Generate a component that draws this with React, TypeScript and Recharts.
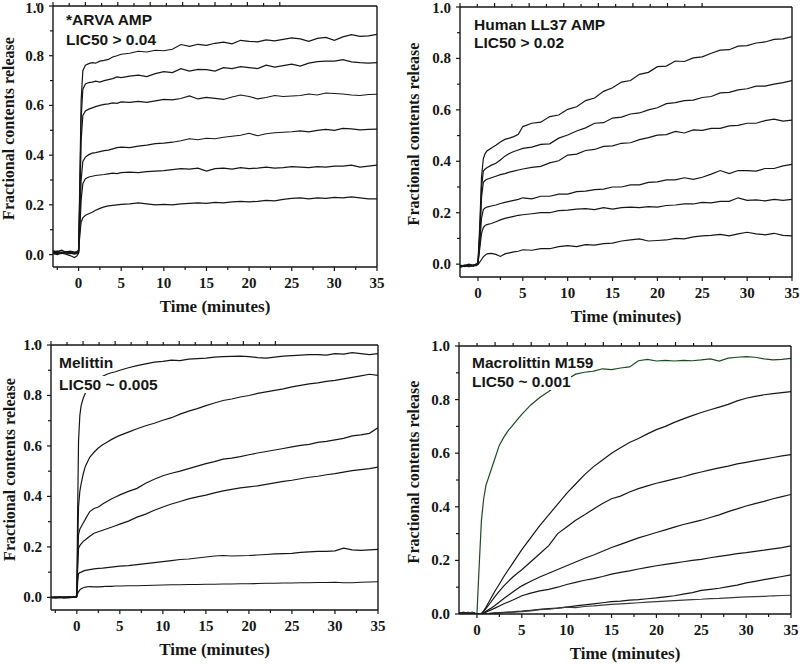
import React from 'react';
import { LineChart, Line, XAxis, YAxis, Label } from 'recharts';

// ---------- *ARVA AMP ----------
const arvaTime = [-3, -2.5, -2, -1.5, -1, -0.5, -0.2, 0, 0.15, 0.3, 0.5, 0.8, 1.2, 1.6, 2, 2.5, 3, 3.5, 4, 4.5, 5, 6, 7, 8, 9, 10, 11, 12, 13, 14, 15, 16, 17, 18, 19, 20, 21, 22, 23, 24, 25, 26, 27, 28, 29, 30, 31, 32, 33, 34, 35];
const arvaA = [0.015, 0.012, 0.018, 0.010, 0.014, 0.010, 0.012, 0.020, 0.30, 0.62, 0.74, 0.762, 0.768, 0.772, 0.770, 0.778, 0.781, 0.785, 0.795, 0.800, 0.806, 0.810, 0.818, 0.815, 0.822, 0.820, 0.826, 0.845, 0.838, 0.846, 0.842, 0.850, 0.855, 0.848, 0.862, 0.858, 0.856, 0.864, 0.860, 0.866, 0.872, 0.868, 0.858, 0.870, 0.874, 0.862, 0.876, 0.885, 0.878, 0.880, 0.886];
const arvaB = [0.008, 0.010, 0.006, 0.012, 0.008, 0.005, 0.008, 0.012, 0.26, 0.55, 0.665, 0.686, 0.692, 0.694, 0.698, 0.694, 0.700, 0.704, 0.708, 0.715, 0.712, 0.718, 0.722, 0.716, 0.728, 0.736, 0.732, 0.748, 0.738, 0.745, 0.744, 0.738, 0.752, 0.748, 0.756, 0.752, 0.748, 0.762, 0.754, 0.760, 0.766, 0.758, 0.770, 0.776, 0.778, 0.778, 0.784, 0.775, 0.772, 0.770, 0.772];
const arvaC = [0.006, 0.004, 0.010, 0.006, 0.004, 0.008, 0.006, 0.010, 0.22, 0.46, 0.560, 0.578, 0.585, 0.590, 0.595, 0.600, 0.604, 0.606, 0.610, 0.608, 0.614, 0.612, 0.616, 0.612, 0.618, 0.624, 0.622, 0.628, 0.638, 0.626, 0.632, 0.628, 0.624, 0.634, 0.642, 0.636, 0.626, 0.632, 0.640, 0.636, 0.638, 0.640, 0.646, 0.642, 0.650, 0.648, 0.646, 0.642, 0.640, 0.644, 0.645];
const arvaD = [0.004, 0.000, 0.006, 0.002, -0.004, -0.012, -0.006, 0.005, 0.14, 0.30, 0.375, 0.392, 0.402, 0.408, 0.410, 0.414, 0.418, 0.420, 0.425, 0.430, 0.432, 0.430, 0.436, 0.440, 0.446, 0.448, 0.452, 0.458, 0.466, 0.462, 0.468, 0.466, 0.472, 0.476, 0.480, 0.488, 0.478, 0.486, 0.490, 0.492, 0.494, 0.498, 0.494, 0.500, 0.504, 0.500, 0.508, 0.506, 0.502, 0.504, 0.505];
const arvaE = [0.012, 0.008, 0.004, 0.010, 0.006, 0.002, 0.004, 0.008, 0.10, 0.22, 0.285, 0.305, 0.312, 0.315, 0.318, 0.320, 0.322, 0.325, 0.328, 0.326, 0.330, 0.332, 0.330, 0.334, 0.336, 0.338, 0.342, 0.346, 0.344, 0.348, 0.336, 0.346, 0.348, 0.344, 0.350, 0.346, 0.348, 0.352, 0.348, 0.350, 0.354, 0.352, 0.350, 0.354, 0.352, 0.356, 0.356, 0.360, 0.352, 0.356, 0.360];
const arvaF = [0.010, 0.014, 0.008, 0.012, 0.010, 0.008, 0.010, 0.012, 0.08, 0.13, 0.148, 0.158, 0.164, 0.170, 0.178, 0.186, 0.192, 0.196, 0.198, 0.200, 0.202, 0.204, 0.208, 0.204, 0.200, 0.202, 0.200, 0.204, 0.206, 0.208, 0.206, 0.210, 0.208, 0.212, 0.214, 0.212, 0.214, 0.218, 0.216, 0.222, 0.226, 0.228, 0.224, 0.228, 0.226, 0.230, 0.228, 0.232, 0.228, 0.224, 0.224];

// ---------- Human LL37 AMP ----------
const llTime = [-2, -1.5, -1, -0.5, -0.2, 0, 0.2, 0.4, 0.6, 0.8, 1, 1.5, 2, 2.5, 3, 3.5, 4, 4.5, 5, 6, 7, 8, 9, 10, 11, 12, 13, 14, 15, 16, 17, 18, 19, 20, 21, 22, 23, 24, 25, 26, 27, 28, 29, 30, 31, 32, 33, 34, 35];
const llA = [-0.010, -0.005, 0.000, -0.005, 0.000, 0.005, 0.15, 0.34, 0.41, 0.43, 0.44, 0.452, 0.462, 0.475, 0.485, 0.490, 0.496, 0.505, 0.535, 0.548, 0.552, 0.574, 0.580, 0.602, 0.612, 0.636, 0.646, 0.672, 0.686, 0.708, 0.714, 0.738, 0.746, 0.768, 0.770, 0.790, 0.788, 0.802, 0.806, 0.820, 0.832, 0.834, 0.848, 0.850, 0.860, 0.864, 0.874, 0.876, 0.885];
const llB = [-0.012, -0.008, -0.004, -0.008, -0.002, 0.000, 0.12, 0.30, 0.362, 0.370, 0.375, 0.385, 0.392, 0.405, 0.420, 0.430, 0.438, 0.444, 0.450, 0.455, 0.466, 0.468, 0.490, 0.502, 0.518, 0.530, 0.548, 0.550, 0.568, 0.572, 0.584, 0.588, 0.600, 0.608, 0.624, 0.628, 0.636, 0.638, 0.648, 0.652, 0.666, 0.668, 0.678, 0.682, 0.692, 0.692, 0.700, 0.706, 0.714];
const llC = [-0.008, -0.004, -0.010, -0.004, -0.006, 0.002, 0.10, 0.26, 0.318, 0.325, 0.330, 0.336, 0.342, 0.348, 0.352, 0.358, 0.362, 0.366, 0.370, 0.376, 0.380, 0.394, 0.402, 0.424, 0.428, 0.442, 0.446, 0.458, 0.460, 0.470, 0.472, 0.484, 0.492, 0.502, 0.504, 0.516, 0.510, 0.522, 0.520, 0.528, 0.528, 0.538, 0.540, 0.548, 0.548, 0.558, 0.564, 0.556, 0.560];
const llD = [-0.006, -0.010, -0.004, -0.008, -0.002, 0.000, 0.08, 0.18, 0.212, 0.218, 0.222, 0.226, 0.230, 0.236, 0.240, 0.244, 0.248, 0.252, 0.258, 0.254, 0.264, 0.264, 0.272, 0.272, 0.282, 0.284, 0.290, 0.292, 0.300, 0.300, 0.308, 0.308, 0.318, 0.320, 0.328, 0.328, 0.336, 0.330, 0.338, 0.350, 0.364, 0.352, 0.364, 0.364, 0.362, 0.372, 0.372, 0.382, 0.388];
const llE = [-0.004, -0.008, -0.002, -0.006, 0.000, 0.002, 0.06, 0.12, 0.142, 0.150, 0.154, 0.158, 0.165, 0.172, 0.178, 0.182, 0.186, 0.190, 0.192, 0.196, 0.200, 0.200, 0.208, 0.210, 0.214, 0.216, 0.212, 0.220, 0.214, 0.220, 0.222, 0.220, 0.224, 0.222, 0.228, 0.230, 0.234, 0.234, 0.240, 0.238, 0.244, 0.244, 0.258, 0.248, 0.250, 0.246, 0.252, 0.248, 0.252];
const llF = [-0.012, -0.006, -0.010, -0.004, -0.006, -0.002, 0.008, 0.018, 0.028, 0.035, 0.040, 0.042, 0.038, 0.030, 0.040, 0.044, 0.048, 0.050, 0.056, 0.054, 0.060, 0.060, 0.068, 0.072, 0.068, 0.076, 0.074, 0.080, 0.082, 0.090, 0.094, 0.098, 0.090, 0.092, 0.094, 0.100, 0.098, 0.106, 0.110, 0.112, 0.116, 0.110, 0.118, 0.124, 0.118, 0.114, 0.120, 0.112, 0.110];

// ---------- Melittin ----------
const melTime = [-3, -2.5, -2, -1.5, -1, -0.5, -0.1, 0, 0.1, 0.2, 0.35, 0.5, 0.75, 1, 1.5, 2, 2.5, 3, 3.5, 4, 4.5, 5, 6, 7, 8, 9, 10, 11, 12, 13, 14, 15, 16, 17, 18, 19, 20, 21, 22, 23, 24, 25, 26, 27, 28, 29, 30, 31, 32, 33, 34, 35];
const melA = [0.000, -0.002, 0.000, 0.002, 0.000, 0.002, 0.004, 0.010, 0.35, 0.62, 0.72, 0.76, 0.79, 0.81, 0.835, 0.852, 0.866, 0.876, 0.884, 0.890, 0.894, 0.900, 0.910, 0.918, 0.925, 0.932, 0.935, 0.940, 0.938, 0.944, 0.946, 0.948, 0.952, 0.954, 0.955, 0.956, 0.954, 0.950, 0.948, 0.952, 0.956, 0.958, 0.960, 0.962, 0.962, 0.960, 0.966, 0.964, 0.970, 0.966, 0.962, 0.966];
const melB = [0.000, 0.000, -0.002, 0.000, 0.002, 0.000, 0.002, 0.008, 0.20, 0.36, 0.42, 0.45, 0.49, 0.52, 0.555, 0.575, 0.592, 0.605, 0.615, 0.625, 0.634, 0.642, 0.655, 0.668, 0.680, 0.690, 0.702, 0.712, 0.726, 0.738, 0.748, 0.760, 0.770, 0.780, 0.786, 0.794, 0.800, 0.808, 0.814, 0.820, 0.826, 0.834, 0.840, 0.846, 0.850, 0.856, 0.860, 0.866, 0.872, 0.878, 0.884, 0.880];
const melC = [0.000, 0.002, 0.000, -0.002, 0.000, 0.002, 0.000, 0.006, 0.15, 0.25, 0.27, 0.28, 0.295, 0.31, 0.34, 0.352, 0.358, 0.370, 0.380, 0.390, 0.398, 0.406, 0.420, 0.432, 0.452, 0.468, 0.482, 0.492, 0.500, 0.510, 0.520, 0.530, 0.538, 0.548, 0.552, 0.558, 0.565, 0.572, 0.578, 0.584, 0.590, 0.596, 0.602, 0.606, 0.614, 0.618, 0.624, 0.630, 0.640, 0.644, 0.650, 0.672];
const melD = [-0.002, 0.000, 0.002, 0.000, -0.002, 0.000, 0.002, 0.006, 0.12, 0.195, 0.205, 0.212, 0.222, 0.228, 0.242, 0.254, 0.260, 0.266, 0.272, 0.278, 0.284, 0.290, 0.302, 0.318, 0.330, 0.345, 0.358, 0.370, 0.380, 0.390, 0.398, 0.405, 0.414, 0.422, 0.428, 0.434, 0.438, 0.442, 0.448, 0.454, 0.460, 0.464, 0.470, 0.476, 0.480, 0.486, 0.490, 0.496, 0.502, 0.506, 0.510, 0.516];
const melE = [0.000, 0.000, 0.002, -0.002, 0.000, 0.000, 0.002, 0.004, 0.06, 0.094, 0.098, 0.100, 0.104, 0.107, 0.110, 0.113, 0.115, 0.116, 0.118, 0.120, 0.122, 0.124, 0.126, 0.130, 0.134, 0.138, 0.142, 0.146, 0.150, 0.152, 0.156, 0.160, 0.164, 0.166, 0.164, 0.165, 0.166, 0.168, 0.170, 0.172, 0.173, 0.174, 0.178, 0.180, 0.182, 0.182, 0.184, 0.195, 0.188, 0.186, 0.188, 0.190];
const melF = [0.000, -0.002, 0.000, 0.000, 0.002, 0.000, 0.000, 0.002, 0.015, 0.022, 0.030, 0.034, 0.038, 0.041, 0.043, 0.042, 0.042, 0.043, 0.044, 0.044, 0.045, 0.045, 0.046, 0.046, 0.047, 0.048, 0.049, 0.050, 0.050, 0.051, 0.051, 0.052, 0.052, 0.053, 0.053, 0.054, 0.054, 0.055, 0.056, 0.056, 0.057, 0.057, 0.058, 0.058, 0.059, 0.059, 0.060, 0.058, 0.058, 0.060, 0.061, 0.062];

// ---------- Macrolittin M159 ----------
const macTime = [-2, -1.5, -1, -0.5, 0, 0.25, 0.5, 0.75, 1, 1.5, 2, 2.5, 3, 3.5, 4, 4.5, 5, 6, 7, 8, 9, 10, 11, 12, 13, 14, 15, 16, 17, 18, 19, 20, 21, 22, 23, 24, 25, 26, 27, 28, 29, 30, 31, 32, 33, 34, 35];
const macG = [0.004, 0.006, 0.003, 0.005, 0.000, 0.18, 0.35, 0.43, 0.48, 0.53, 0.58, 0.63, 0.66, 0.685, 0.705, 0.725, 0.745, 0.780, 0.808, 0.830, 0.855, 0.875, 0.895, 0.902, 0.906, 0.915, 0.912, 0.918, 0.922, 0.945, 0.950, 0.944, 0.946, 0.944, 0.946, 0.945, 0.948, 0.952, 0.944, 0.955, 0.958, 0.960, 0.958, 0.952, 0.948, 0.950, 0.954];
const macB = [0.004, 0.006, 0.003, 0.005, 0.000, 0.000, 0.002, 0.012, 0.025, 0.055, 0.085, 0.112, 0.140, 0.165, 0.190, 0.215, 0.240, 0.285, 0.330, 0.370, 0.410, 0.450, 0.485, 0.520, 0.550, 0.575, 0.600, 0.620, 0.640, 0.655, 0.672, 0.688, 0.700, 0.715, 0.728, 0.740, 0.752, 0.762, 0.772, 0.782, 0.795, 0.805, 0.812, 0.818, 0.822, 0.826, 0.830];
const macC = [0.003, 0.005, 0.004, 0.006, 0.000, 0.000, 0.000, 0.010, 0.020, 0.042, 0.065, 0.085, 0.105, 0.122, 0.138, 0.152, 0.165, 0.195, 0.225, 0.255, 0.300, 0.325, 0.350, 0.370, 0.392, 0.412, 0.430, 0.440, 0.455, 0.468, 0.478, 0.488, 0.496, 0.504, 0.512, 0.522, 0.530, 0.538, 0.545, 0.552, 0.560, 0.566, 0.572, 0.578, 0.584, 0.590, 0.595];
const macD = [0.005, 0.003, 0.006, 0.004, 0.000, 0.000, 0.000, 0.004, 0.010, 0.020, 0.032, 0.045, 0.058, 0.070, 0.082, 0.094, 0.105, 0.122, 0.138, 0.152, 0.166, 0.180, 0.194, 0.208, 0.220, 0.234, 0.248, 0.260, 0.272, 0.284, 0.294, 0.304, 0.314, 0.324, 0.334, 0.342, 0.350, 0.360, 0.370, 0.382, 0.392, 0.403, 0.412, 0.420, 0.430, 0.438, 0.446];
const macE = [0.004, 0.005, 0.003, 0.004, 0.000, 0.000, 0.000, 0.003, 0.007, 0.014, 0.022, 0.030, 0.038, 0.045, 0.052, 0.060, 0.068, 0.078, 0.086, 0.092, 0.100, 0.110, 0.118, 0.126, 0.132, 0.140, 0.149, 0.155, 0.161, 0.168, 0.174, 0.180, 0.185, 0.190, 0.195, 0.200, 0.204, 0.210, 0.215, 0.220, 0.225, 0.229, 0.234, 0.238, 0.243, 0.248, 0.254];
const macF = [0.003, 0.004, 0.005, 0.003, 0.000, 0.000, 0.000, 0.000, 0.000, 0.002, 0.004, 0.005, 0.006, 0.007, 0.008, 0.010, 0.011, 0.014, 0.017, 0.020, 0.022, 0.026, 0.030, 0.034, 0.038, 0.042, 0.046, 0.048, 0.052, 0.054, 0.057, 0.060, 0.064, 0.068, 0.074, 0.080, 0.088, 0.092, 0.096, 0.102, 0.108, 0.116, 0.122, 0.128, 0.134, 0.140, 0.146];
const macH = [0.004, 0.003, 0.004, 0.006, 0.000, 0.000, 0.000, 0.000, 0.000, 0.002, 0.003, 0.004, 0.005, 0.006, 0.007, 0.008, 0.009, 0.012, 0.016, 0.018, 0.022, 0.026, 0.024, 0.028, 0.030, 0.033, 0.036, 0.038, 0.040, 0.042, 0.044, 0.046, 0.048, 0.050, 0.052, 0.054, 0.055, 0.057, 0.058, 0.060, 0.062, 0.064, 0.065, 0.066, 0.068, 0.069, 0.070];

// ticks (minor ones get no label)
const xTicksFromMinus3 = [-2.5, 0, 2.5, 5, 7.5, 10, 12.5, 15, 17.5, 20, 22.5, 25, 27.5, 30, 32.5, 35];
const xTicksFromMinus2 = [0, 2.5, 5, 7.5, 10, 12.5, 15, 17.5, 20, 22.5, 25, 27.5, 30, 32.5, 35];
const yTicks = [0, 0.1, 0.2, 0.3, 0.4, 0.5, 0.6, 0.7, 0.8, 0.9, 1.0];

const xTitle = 'Time (minutes)';
const yTitle = 'Fractional contents release';

const SERIF = "'Liberation Serif', 'Times New Roman', serif";
const SANS = "'Liberation Sans', Arial, sans-serif";
const INK = '#161616';
const GREEN = '#1f4a1f';

const W = 400;
const H = 332;

type Spec = {
  left: number;
  top: number;
  time: number[];
  series: number[][];
  colors: string[];
  xMin: number;
  yMin: number;
  xTicks: number[];
  plot: { left: number; right: number; top: number; bottom: number };
  note: string[];
  noteX: number;
  noteY: number[];
  yTitleDx: number;
};

const panels: Spec[] = [
  {
    left: 0, top: 0, time: arvaTime, series: [arvaA, arvaB, arvaC, arvaD, arvaE, arvaF],
    colors: [INK, INK, INK, INK, INK, INK], xMin: -3, yMin: -0.05, xTicks: xTicksFromMinus3,
    plot: { left: 53, right: 377, top: 6, bottom: 267 },
    note: ['*ARVA AMP', 'LIC50 > 0.04'], noteX: 66, noteY: [25, 45], yTitleDx: 45,
  },
  {
    left: 400, top: 0, time: llTime, series: [llA, llB, llC, llD, llE, llF],
    colors: [INK, INK, INK, INK, INK, INK], xMin: -2, yMin: -0.05, xTicks: xTicksFromMinus2,
    plot: { left: 60, right: 392, top: 7, bottom: 277 },
    note: ['Human LL37 AMP', 'LIC50 > 0.02'], noteX: 74, noteY: [30, 48], yTitleDx: 47,
  },
  {
    left: 0, top: 332, time: melTime, series: [melA, melB, melC, melD, melE, melF],
    colors: [INK, INK, INK, INK, INK, INK], xMin: -3, yMin: -0.05, xTicks: xTicksFromMinus3,
    plot: { left: 51, right: 378, top: 13, bottom: 278 },
    note: ['Melittin', 'LIC50 ~ 0.005'], noteX: 59, noteY: [36, 58], yTitleDx: 42,
  },
  {
    left: 400, top: 332, time: macTime, series: [macG, macB, macC, macD, macE, macF, macH],
    colors: [GREEN, INK, INK, INK, INK, INK, '#3a3a3a'], xMin: -2, yMin: 0, xTicks: xTicksFromMinus2,
    plot: { left: 59, right: 391, top: 14, bottom: 282 },
    note: ['Macrolittin M159', 'LIC50 ~ 0.001'], noteX: 72, noteY: [36, 55], yTitleDx: 46,
  },
];

const isMajorX = (v: number) => Math.abs(v - Math.round(v / 5) * 5) < 1e-6;
const isMajorY = (v: number) => Math.round(v * 10) % 2 === 0;

const BottomTick = (props: any) => {
  const { x, y, payload } = props;
  const v = payload.value as number;
  const major = isMajorX(v);
  return (
    <g>
      <line x1={x} x2={x} y1={y} y2={y + (major ? 4 : 3)} stroke={INK} strokeWidth={1.2} />
      {major && (
        <text x={x} y={y + 16} textAnchor="middle" dominantBaseline="central"
          fontFamily={SERIF} fontWeight="bold" fontSize={15} fill={INK}>{v}</text>
      )}
    </g>
  );
};

const TopTick = (props: any) => {
  const { x, y, payload } = props;
  const major = isMajorX(payload.value);
  return <line x1={x} x2={x} y1={y} y2={y - (major ? 4 : 3)} stroke={INK} strokeWidth={1.2} />;
};

const LeftTick = (props: any) => {
  const { x, y, payload } = props;
  const v = payload.value as number;
  const major = isMajorY(v);
  // keep the topmost label inside the page edge
  const ty = Math.max(y, 8);
  return (
    <g>
      <line x1={x} x2={x - (major ? 4 : 3)} y1={y} y2={y} stroke={INK} strokeWidth={1.2} />
      {major && (
        <text x={x - 9} y={ty} textAnchor="end" dominantBaseline="central"
          fontFamily={SERIF} fontWeight="bold" fontSize={15} fill={INK}>{v.toFixed(1)}</text>
      )}
    </g>
  );
};

function Panel({ p }: { p: Spec }) {
  const rows = p.time.map((t, i) => {
    const row: Record<string, number> = { t };
    p.series.forEach((s, k) => {
      row['s' + k] = s[i];
    });
    return row;
  });
  const plotMidX = (p.plot.left + p.plot.right) / 2;
  const plotMidY = (p.plot.top + p.plot.bottom) / 2 - 8;
  const yTitleX = p.plot.left - p.yTitleDx;
  const axisLine = { stroke: INK, strokeWidth: 1.4 };

  return (
    <div style={{ position: 'absolute', left: p.left, top: p.top, width: W, height: H }}>
      <LineChart width={W} height={H} data={rows} margin={{ top: 0, right: 0, left: 0, bottom: 0 }}>
        <XAxis
          dataKey="t" type="number" domain={[p.xMin, 35]} ticks={p.xTicks} interval={0}
          allowDataOverflow height={H - p.plot.bottom} tickSize={0} tickMargin={0}
          tickLine={false} axisLine={axisLine} tick={<BottomTick />}
        >
          <Label
            content={() => (
              <text x={plotMidX} y={p.plot.bottom + 39} textAnchor="middle" dominantBaseline="central"
                fontFamily={SERIF} fontWeight="bold" fontSize={17} fill={INK}>{xTitle}</text>
            )}
          />
        </XAxis>
        <XAxis
          xAxisId="top" orientation="top" type="number" domain={[p.xMin, 35]} ticks={p.xTicks}
          interval={0} allowDataOverflow height={p.plot.top} tickSize={0} tickMargin={0}
          tickLine={false} axisLine={axisLine} tick={<TopTick />}
        />
        <YAxis
          type="number" domain={[p.yMin, 1]} ticks={yTicks} interval={0} allowDataOverflow
          width={p.plot.left} tickSize={0} tickMargin={0} tickLine={false} axisLine={axisLine}
          tick={<LeftTick />}
        >
          <Label
            content={() => (
              <text x={yTitleX} y={plotMidY} textAnchor="middle" dominantBaseline="central"
                transform={`rotate(-90, ${yTitleX}, ${plotMidY})`}
                fontFamily={SERIF} fontWeight="bold" fontSize={16} fill={INK}>{yTitle}</text>
            )}
          />
        </YAxis>
        <YAxis
          yAxisId="r" orientation="right" type="number" domain={[p.yMin, 1]} width={W - p.plot.right}
          tick={false} tickLine={false} axisLine={axisLine}
        />
        {p.series.map((_, k) => (
          <Line
            key={k} type="linear" dataKey={'s' + k} stroke={p.colors[k]} strokeWidth={1.2}
            dot={false} activeDot={false} isAnimationActive={false}
          />
        ))}
      </LineChart>
      {p.note.map((line, i) => (
        <div
          key={i}
          style={{
            position: 'absolute', left: p.noteX, top: p.noteY[i] - 14, lineHeight: '17px',
            fontFamily: SANS, fontWeight: 'bold', fontSize: 15.5, color: INK, whiteSpace: 'nowrap',
          }}
        >
          <span style={{ background: '#fff' }}>{line}</span>
        </div>
      ))}
    </div>
  );
}

export default function App() {
  return (
    <div style={{ position: 'absolute', left: 0, top: 0, width: 800, height: 664, background: '#fff' }}>
      {panels.map((p, i) => (
        <Panel key={i} p={p} />
      ))}
    </div>
  );
}
